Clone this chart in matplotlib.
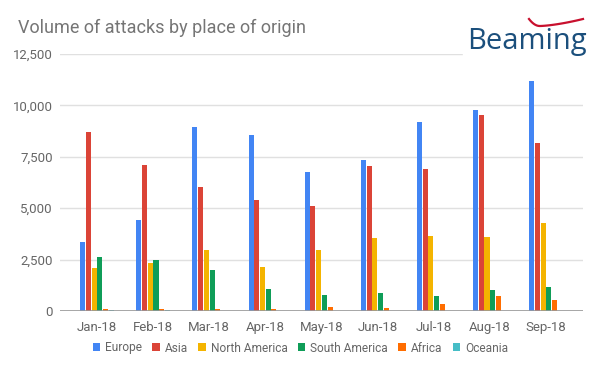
import numpy as np
import matplotlib
matplotlib.use('Agg')
import matplotlib.pyplot as plt
from matplotlib.patches import Rectangle

months = ['Jan-18', 'Feb-18', 'Mar-18', 'Apr-18', 'May-18', 'Jun-18', 'Jul-18', 'Aug-18', 'Sep-18']

europe = [3340, 4430, 8960, 8560, 6770, 7350, 9170, 9770, 11180]
asia = [8730, 7110, 6020, 5390, 5130, 7060, 6900, 9530, 8170]
north_america = [2090, 2320, 2990, 2160, 2970, 3570, 3630, 3600, 4300]
south_america = [2610, 2470, 1980, 1060, 760, 860, 710, 1040, 1180]
africa = [80, 80, 110, 110, 190, 160, 320, 730, 530]
oceania = [45, 45, 15, 8, 5, 5, 5, 5, 5]

series = [
    ('Europe', europe, '#4285F4'),
    ('Asia', asia, '#DB4437'),
    ('North America', north_america, '#F4B400'),
    ('South America', south_america, '#0F9D58'),
    ('Africa', africa, '#FF6D00'),
    ('Oceania', oceania, '#46BDC6'),
]

plt.rcParams['font.family'] = ['Roboto', 'DejaVu Sans']

W, H = 602, 372
fig = plt.figure(figsize=(W / 100, H / 100), dpi=100)
ax = fig.add_axes([60 / W, 1 - 311 / H, (583 - 60) / W, (311 - 54) / H])

x = np.arange(len(months))
bw = 0.102
for i, (name, vals, col) in enumerate(series):
    ax.bar(x + (i - 2.5) * bw, vals, width=bw * 0.88, color=col, label=name, zorder=3)

ax.set_ylim(0, 12500)
ax.set_xlim(-0.66, 8.66)
ax.set_yticks([0, 2500, 5000, 7500, 10000, 12500])
ax.set_yticklabels(['0', '2,500', '5,000', '7,500', '10,000', '12,500'])
ax.set_xticks(x)
ax.set_xticklabels(months)
ax.grid(axis='y', color='#e0e0e0', linewidth=1, zorder=0)
ax.axhline(0, color='#999999', linewidth=1.2, zorder=4)
for s in ax.spines.values():
    s.set_visible(False)
ax.tick_params(length=0, labelsize=9.5, colors='#666666')
ax.tick_params(axis='y', pad=5)
ax.tick_params(axis='x', pad=7)

fig.text(18 / W, 1 - 28 / H, 'Volume of attacks by place of origin', fontsize=13,
         color='#757575', va='center', ha='left')

ax.legend(loc='center', bbox_to_anchor=((300.5 - 60) / 523, -37 / 257), ncol=6, frameon=False,
          fontsize=8.6, handlelength=0.6, handleheight=0.6, handletextpad=0.45,
          columnspacing=0.85, labelcolor='#666666')

# logo
fig.patches.append(Rectangle((463 / W, 1 - 62 / H), (W - 463) / W, 62 / H,
                             transform=fig.transFigure, color='white', zorder=5))
fig.text(527 / W, 1 - 42 / H, 'Beaming', fontsize=21, color='#1b4f7c',
         ha='center', va='center', zorder=6, family=['Open Sans', 'DejaVu Sans'])
t = np.linspace(0, 1, 60)
sx = 529 + 54 * t
sy = np.where(t < 0.2, 26 - 7 * ((0.2 - t) / 0.2) ** 2, 26 - 7 * ((t - 0.2) / 0.8) ** 1.5)
fig.add_artist(plt.Line2D(sx / W, 1 - sy / H, color='#c8102e', linewidth=1.6, zorder=7))

fig.savefig('out.png', dpi=100)
